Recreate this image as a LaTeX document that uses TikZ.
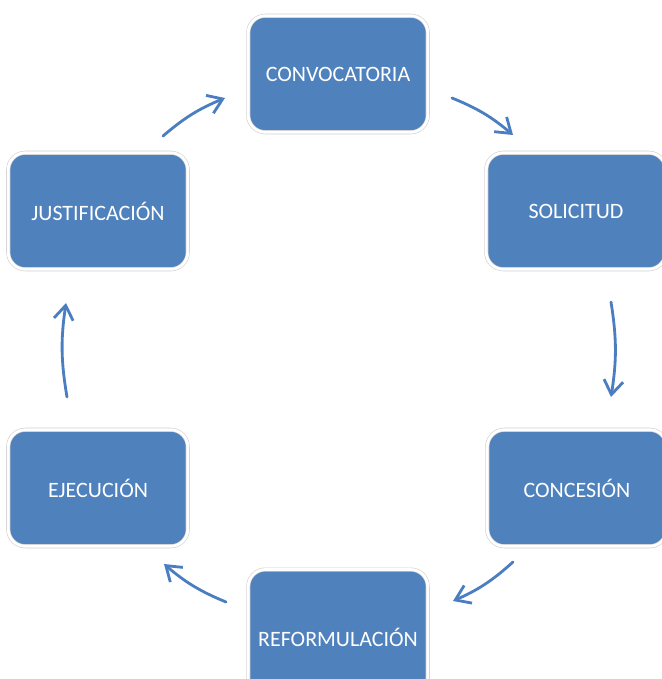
\documentclass[tikz,border=0pt]{standalone}
\usepackage{fontspec}
\setmainfont{Carlito}
\usetikzlibrary{arrows.meta}
\definecolor{boxblue}{RGB}{79,129,189}
\definecolor{arrowblue}{RGB}{74,126,193}
\definecolor{ringgray}{RGB}{208,208,208}

\begin{document}
\begin{tikzpicture}[x=0.02cm, y=-0.02cm,
		fase/.style={rectangle, rounded corners=0.34cm, fill=boxblue, draw=ringgray, double=white, double distance=1.6pt, line width=0.35pt, minimum width=3.59cm, minimum height=2.33cm, text=white, font=\fontsize{12.5}{14}\selectfont},
		flecha/.style={arrowblue, line width=1.6pt, line cap=round, -{Straight Barb[length=8pt,width=11pt]}, bend left=9}]
		\useasboundingbox (0,0) rectangle (662,679);
		\clip (0,0) rectangle (662,679);

		% Phases
		\node [fase] (conv) at (338,74) {CONVOCATORIA};
		\node [fase] (soli) at (576,211) {SOLICITUD};
		\node [fase] (conc) at (577,488) {CONCESIÓN};
		\node [fase, minimum height=2.7cm] (refo) at (338,637) {REFORMULACIÓN};
		\node [fase] (ejec) at (98,488) {EJECUCIÓN};
		\node [fase] (just) at (98,211) {JUSTIFICACIÓN};

		% Arrow ends
		\coordinate (just-out) at (163,136);
		\coordinate (conv-in) at (225,98);
		\coordinate (conv-out) at (452,98);
		\coordinate (soli-in) at (513,135);
		\coordinate (soli-out) at (611,302);
		\coordinate (conc-in) at (611,397);
		\coordinate (conc-out) at (513,562);
		\coordinate (refo-in) at (453,601);
		\coordinate (refo-out) at (226,602);
		\coordinate (ejec-in) at (164,564);
		\coordinate (ejec-out) at (67,397);
		\coordinate (just-in) at (66,303);

		\draw [flecha] (just-out) to (conv-in);
		\draw [flecha] (conv-out) to (soli-in);
		\draw [flecha] (soli-out) to (conc-in);
		\draw [flecha] (conc-out) to (refo-in);
		\draw [flecha] (refo-out) to (ejec-in);
		\draw [flecha] (ejec-out) to (just-in);
	\end{tikzpicture}
\end{document}
